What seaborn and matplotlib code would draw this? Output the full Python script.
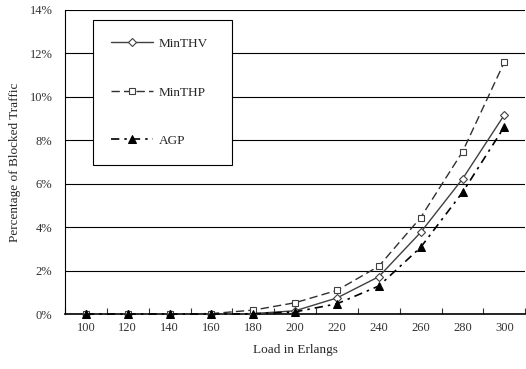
import pandas as pd
import numpy as np
import matplotlib.pyplot as plt
import seaborn as sns

load = [100, 120, 140, 160, 180, 200, 220, 240, 260, 280, 300]
minthv = [0.0, 0.0, 0.0, 0.0, 0.02, 0.15, 0.74, 1.72, 3.76, 6.22, 9.17]
minthp = [0.0, 0.0, 0.0, 0.02, 0.18, 0.52, 1.09, 2.20, 4.44, 7.47, 11.6]
agp = [0.0, 0.0, 0.0, 0.0, 0.01, 0.10, 0.47, 1.29, 3.07, 5.60, 8.62]

sns.set_style("white")
plt.rcParams['font.family'] = ['Liberation Serif', 'DejaVu Serif']
plt.rcParams['font.size'] = 9.5

fig = plt.figure(figsize=(5.26, 3.69), dpi=100)
ax = fig.add_axes([0.1236, 0.149, 0.875, 0.824])

df = pd.DataFrame({"load": load, "MinTHV": minthv, "MinTHP": minthp, "AGP": agp})

sns.lineplot(data=df, x="load", y="MinTHV", ax=ax, color="#404040", lw=1.0,
             marker="D", markersize=4, markerfacecolor="white",
             markeredgecolor="#404040", markeredgewidth=0.8, label="MinTHV",
             clip_on=False, zorder=3)
sns.lineplot(data=df, x="load", y="MinTHP", ax=ax, color="#303030", lw=1.0,
             dashes=(6, 3), marker="s", markersize=5, markerfacecolor="white",
             markeredgecolor="#404040", markeredgewidth=0.8, label="MinTHP",
             clip_on=False, zorder=4)
sns.lineplot(data=df, x="load", y="AGP", ax=ax, color="black", lw=1.2,
             dashes=(5, 3, 1.5, 3), marker="^", markersize=5.5,
             markerfacecolor="black", markeredgecolor="black", label="AGP",
             clip_on=False, zorder=5)

ax.set_xlim(90, 310)
ax.set_ylim(0, 14)
ax.set_xticks(load)
ax.set_xticks(np.arange(90, 311, 10), minor=True)
ax.set_yticks(np.arange(0, 15, 2))
ax.set_yticklabels([f"{v}%" for v in range(0, 15, 2)])
ax.tick_params(axis='x', which='both', direction='in', length=4, width=0.8,
               bottom=True, pad=6, colors='#333333', labelsize=9)
ax.tick_params(axis='x', which='major', length=0)
ax.tick_params(axis='y', length=0, pad=9, colors='#333333', labelsize=9)
ax.yaxis.grid(True, color='black', lw=0.8)
ax.set_axisbelow(True)

ax.spines['right'].set_visible(False)
ax.spines['top'].set_visible(False)
ax.spines['left'].set_color('black')
ax.spines['bottom'].set_color('black')
ax.spines['bottom'].set_linewidth(1.2)

ax.set_xlabel("Load in Erlangs", labelpad=7)
ax.set_ylabel("Percentage of Blocked Traffic", labelpad=6)

leg = ax.legend(loc='upper left', bbox_to_anchor=(0.061, 0.967, 0.302, 0),
                mode='expand', labelspacing=2.75, handlelength=3.2,
                borderpad=1.35, handletextpad=0.4, fancybox=False,
                framealpha=1, edgecolor='black', borderaxespad=0)
leg.get_frame().set_linewidth(0.8)

fig.savefig("out.png", dpi=100)
